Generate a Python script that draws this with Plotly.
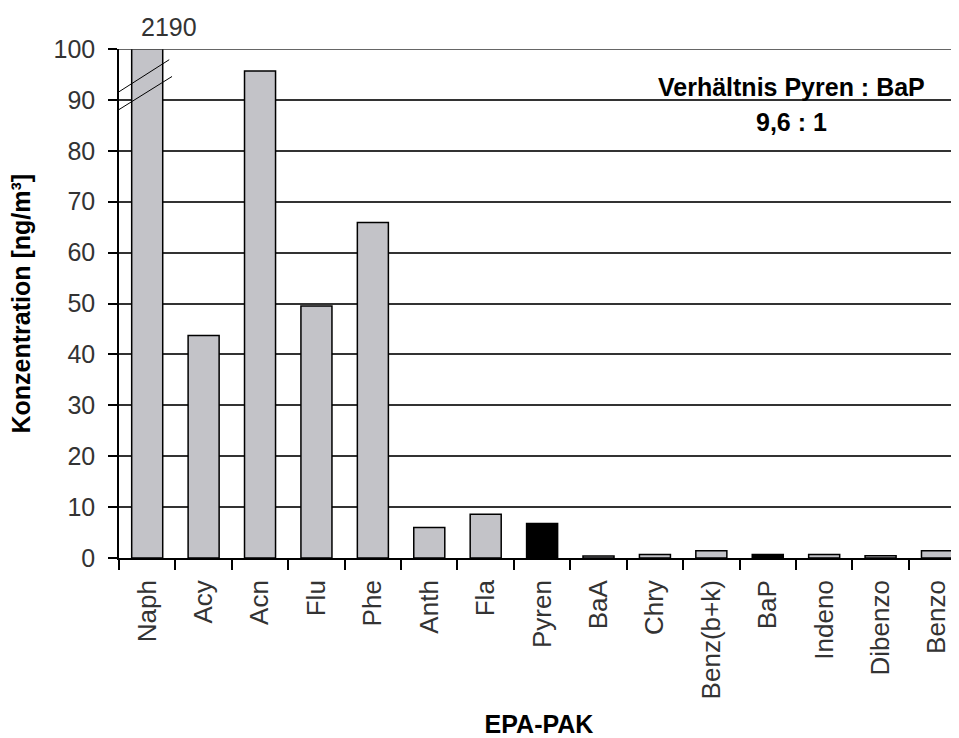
import plotly.graph_objects as go

categories = ["Naph", "Acy", "Acn", "Flu", "Phe", "Anth", "Fla", "Pyren",
              "BaA", "Chry", "Benz(b+k)", "BaP", "Indeno", "Dibenzo", "Benzo"]
values = [2190, 43.7, 95.7, 49.5, 65.9, 6.0, 8.6, 6.8,
          0.4, 0.7, 1.4, 0.7, 0.7, 0.45, 1.4]
highlight = ["Pyren", "BaP"]
y_ticks = [0, 10, 20, 30, 40, 50, 60, 70, 80, 90, 100]

colors = ["#000000" if c in highlight else "#c3c3c8" for c in categories]

FONT = "Liberation Sans, Arial, sans-serif"
PLOT_W = 840

fig = go.Figure()
fig.add_trace(go.Bar(
    x=categories, y=values,
    marker=dict(color=colors, line=dict(color="#000000", width=1.5)),
    width=0.55,
    cliponaxis=True,
    showlegend=False,
))

# value label of the clipped bar
fig.add_annotation(x=categories[0], y=100, xref="x", yref="y",
                   text=str(values[0]), showarrow=False, yanchor="bottom",
                   xanchor="center", xshift=22, yshift=6,
                   font=dict(family=FONT, size=25, color="#333333"))

# axis-break marks
for y0, y1, x1 in [(91.6, 97.9, 0.39), (88.1, 94.6, 0.44)]:
    fig.add_shape(type="line", x0=-0.5, x1=x1, y0=y0, y1=y1,
                  xref="x", yref="y", line=dict(color="#000000", width=1))

# top line at 100
fig.add_shape(type="line", x0=0, x1=1, xref="paper", y0=100, y1=100, yref="y",
              line=dict(color="#333333", width=1.5), layer="above")

fig.add_annotation(x=0.801, y=0.925, xref="paper", yref="paper",
                   xanchor="center", yanchor="middle",
                   text="<b>Verhältnis Pyren : BaP</b>", showarrow=False,
                   font=dict(family=FONT, size=25, color="#000000"))
fig.add_annotation(x=0.801, y=0.856, xref="paper", yref="paper",
                   xanchor="center", yanchor="middle",
                   text="<b>9,6 : 1</b>", showarrow=False,
                   font=dict(family=FONT, size=25, color="#000000"))

# y-axis title
fig.add_annotation(x=-99 / PLOT_W, y=0.5, xref="paper", yref="paper",
                   xanchor="center", yanchor="middle", textangle=-90,
                   text="<b>Konzentration [ng/m³]</b>", showarrow=False,
                   font=dict(family=FONT, size=25, color="#000000"))

fig.update_layout(
    width=951, height=730,
    margin=dict(l=111, r=0, t=41, b=180),
    paper_bgcolor="white", plot_bgcolor="white",
    bargap=0.45,
    font=dict(family=FONT, color="#333333"),
    xaxis=dict(
        range=[-0.5, 14.39],
        automargin=False,
        tickangle=-90,
        tickson="boundaries",
        ticks="outside", ticklen=10, tickcolor="#000000", tickwidth=1.5,
        ticklabelstandoff=10,
        showline=True, linecolor="#000000", linewidth=1.5,
        showgrid=False,
        tickfont=dict(family=FONT, size=26, color="#333333"),
        title=dict(text="<b>EPA-PAK</b>", standoff=20,
                   font=dict(family=FONT, size=25, color="#000000")),
    ),
    yaxis=dict(
        range=[0, 100],
        automargin=False,
        tickvals=y_ticks,
        ticks="outside", ticklen=9, tickcolor="#000000", tickwidth=1.5,
        ticklabelstandoff=8,
        showline=True, linecolor="#000000", linewidth=1.5,
        showgrid=True, gridcolor="#333333", gridwidth=1.5,
        zeroline=False,
        tickfont=dict(family=FONT, size=25, color="#333333"),
    ),
)

fig.write_html("out.html")
